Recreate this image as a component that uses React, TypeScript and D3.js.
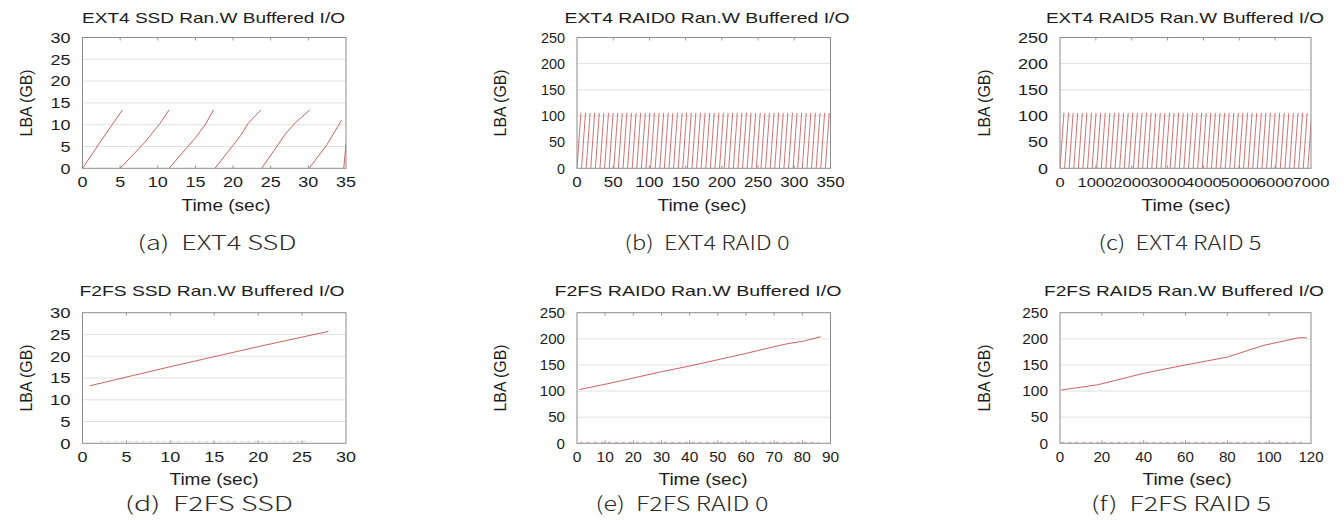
import { useEffect, useRef } from 'react';
import * as d3 from 'd3';

type Pt = [number, number];

// ---- data (time in sec, LBA in GB) ----

// (a) EXT4 on SSD: each run is one sweep through the LBA range
const ext4SsdRuns: Pt[][] = [
  [[0, 0], [2.5, 6.4], [5.3, 13.4]],
  [[5.0, 0], [8.3, 6.0], [10.3, 10.3], [11.5, 13.4]],
  [[11.5, 0], [15.0, 7.0], [16.3, 10.0], [17.4, 13.4]],
  [[17.6, 0], [21.0, 7.5], [22.0, 10.3], [23.7, 13.4]],
  [[23.8, 0], [27.0, 8.0], [28.3, 10.5], [30.2, 13.4]],
  [[30.1, 0], [32.5, 5.5], [34.4, 11.0]],
  [[34.7, 0], [35.0, 5.6]],
];

// (b) EXT4 on RAID0: start of every sweep, sweep length and top LBA
const ext4Raid0Starts = [
  0, 6.3, 12.7, 19.0, 25.4, 31.7, 38.1, 44.4, 50.8, 57.1, 63.5, 69.8, 76.2, 82.5,
  88.9, 95.2, 101.6, 107.9, 114.3, 120.6, 127.0, 133.3, 139.7, 146.0, 152.4, 158.7,
  165.1, 171.4, 177.8, 184.1, 190.5, 196.8, 203.2, 209.5, 215.9, 222.2, 228.6, 234.9,
  241.3, 247.6, 254.0, 260.3, 266.7, 273.0, 279.4, 285.7, 292.1, 298.4, 304.8, 311.1,
  317.5, 323.8, 330.2, 336.5, 342.9,
];
const ext4Raid0Sweep = 5.4;
const ext4Raid0Top = 106;

// (c) EXT4 on RAID5
const ext4Raid5Starts = [
  0, 128, 256, 384, 512, 640, 768, 896, 1024, 1152, 1280, 1408, 1536, 1664, 1792,
  1920, 2048, 2176, 2304, 2432, 2560, 2688, 2816, 2944, 3072, 3200, 3328, 3456, 3584,
  3712, 3840, 3968, 4096, 4224, 4352, 4480, 4608, 4736, 4864, 4992, 5120, 5248, 5376,
  5504, 5632, 5760, 5888, 6016, 6144, 6272, 6400, 6528, 6656, 6784, 6912,
];
const ext4Raid5Sweep = 110;
const ext4Raid5Top = 106;

// (d)-(f) F2FS: one log-structured sweep plus a faint trace near zero
const f2fsSsdLine: Pt[] = [[0.8, 13.2], [10, 17.6], [20, 22.2], [28, 25.7]];
const f2fsSsdFloor: Pt[] = [[2, 0.4], [26, 0.4]];
const f2fsRaid0Line: Pt[] = [
  [0.9, 103], [10, 113], [20, 125], [30, 137], [40, 148], [50, 160],
  [60, 172], [70, 185], [75, 191], [80, 195], [86.5, 204],
];
const f2fsRaid0Floor: Pt[] = [[1, 2], [86, 2]];
const f2fsRaid5Line: Pt[] = [
  [0.6, 102], [18, 112], [40, 134], [60, 150], [80, 165], [97, 187], [114, 202], [118, 202],
];
const f2fsRaid5Floor: Pt[] = [[0.6, 2], [117, 2]];

// tick values
const ssdLbaTicks = [0, 5, 10, 15, 20, 25, 30];
const raidLbaTicks = [0, 50, 100, 150, 200, 250];
const ext4SsdTimeTicks = [0, 5, 10, 15, 20, 25, 30, 35];
const ext4Raid0TimeTicks = [0, 50, 100, 150, 200, 250, 300, 350];
const ext4Raid5TimeTicks = [0, 1000, 2000, 3000, 4000, 5000, 6000, 7000];
const f2fsSsdTimeTicks = [0, 5, 10, 15, 20, 25, 30];
const f2fsRaid0TimeTicks = [0, 10, 20, 30, 40, 50, 60, 70, 80, 90];
const f2fsRaid5TimeTicks = [0, 20, 40, 60, 80, 100, 120];

const sweeps = (starts: number[], len: number, top: number): Pt[][] =>
  starts.map((s) => [[s, 0], [s + len, top]]);

const panels = [
  { tag: '(a)', caption: 'EXT4 SSD', title: 'EXT4 SSD Ran.W Buffered I/O', xTicks: ext4SsdTimeTicks, yTicks: ssdLbaTicks, runs: ext4SsdRuns, floor: null },
  { tag: '(b)', caption: 'EXT4 RAID 0', title: 'EXT4 RAID0 Ran.W Buffered I/O', xTicks: ext4Raid0TimeTicks, yTicks: raidLbaTicks, runs: sweeps(ext4Raid0Starts, ext4Raid0Sweep, ext4Raid0Top), floor: null },
  { tag: '(c)', caption: 'EXT4 RAID 5', title: 'EXT4 RAID5 Ran.W Buffered I/O', xTicks: ext4Raid5TimeTicks, yTicks: raidLbaTicks, runs: sweeps(ext4Raid5Starts, ext4Raid5Sweep, ext4Raid5Top), floor: null },
  { tag: '(d)', caption: 'F2FS SSD', title: 'F2FS SSD Ran.W Buffered I/O', xTicks: f2fsSsdTimeTicks, yTicks: ssdLbaTicks, runs: [f2fsSsdLine], floor: f2fsSsdFloor },
  { tag: '(e)', caption: 'F2FS RAID 0', title: 'F2FS RAID0 Ran.W Buffered I/O', xTicks: f2fsRaid0TimeTicks, yTicks: raidLbaTicks, runs: [f2fsRaid0Line], floor: f2fsRaid0Floor },
  { tag: '(f)', caption: 'F2FS RAID 5', title: 'F2FS RAID5 Ran.W Buffered I/O', xTicks: f2fsRaid5TimeTicks, yTicks: raidLbaTicks, runs: [f2fsRaid5Line], floor: f2fsRaid5Floor },
];

// ---- layout ----
const W = 1344;
const H = 528;
const cols = [
  { x0: 82.5, x1: 346, ylab: 32 },
  { x0: 577, x1: 830.5, ylab: 506 },
  { x0: 1060, x1: 1311, ylab: 990 },
];
const rows = [
  { y0: 37.5, y1: 168.3, title: 22.5, xlab: 211, caption: 250 },
  { y0: 312.7, y1: 443.3, title: 296, xlab: 485, caption: 511 },
];
// per panel text placement / width tweaks
const looks = [
  { titleCx: 213.5, titleW: 263, timeCx: 226, capCx: 217, capW: 159, xDigit: 10, yDigit: 10, xFont: 15 },
  { titleCx: 707, titleW: 285, timeCx: 702, capCx: 707, capW: 165, xDigit: 9.4, yDigit: 8, xFont: 15 },
  { titleCx: 1185, titleW: 278, timeCx: 1186, capCx: 1180, capW: 163, xDigit: 9.2, yDigit: 10, xFont: 12.5 },
  { titleCx: 212, titleW: 265, timeCx: 214, capCx: 209, capW: 168, xDigit: 10, yDigit: 10.3, xFont: 15 },
  { titleCx: 698, titleW: 287, timeCx: 703, capCx: 682, capW: 173, xDigit: 8.6, yDigit: 8.4, xFont: 15 },
  { titleCx: 1184, titleW: 280, timeCx: 1187, capCx: 1181, capW: 180, xDigit: 8.4, yDigit: 8.6, xFont: 15 },
];

const FONT = '"Liberation Sans", Arial, Helvetica, sans-serif';
const CAP_FONT = '"Noto Sans CJK KR", "Noto Sans", sans-serif';
const INK = '#1c1c1c';
const LINE = '#c4504f';

export default function App() {
  const svgRef = useRef<SVGSVGElement>(null);

  useEffect(() => {
    const svg = d3.select(svgRef.current);
    svg.selectAll('*').remove();

    panels.forEach((p, i) => {
      const c = cols[i % 3];
      const r = rows[Math.floor(i / 3)];
      const look = looks[i];

      const x = d3.scaleLinear()
        .domain([0, p.xTicks[p.xTicks.length - 1]])
        .range([c.x0, c.x1]);
      const y = d3.scaleLinear()
        .domain([0, p.yTicks[p.yTicks.length - 1]])
        .range([r.y1, r.y0]);

      const g = svg.append('g');
      const clipId = `clip-${i}`;
      g.append('clipPath').attr('id', clipId)
        .append('rect')
        .attr('x', c.x0).attr('y', r.y0 - 1)
        .attr('width', c.x1 - c.x0).attr('height', r.y1 - r.y0 + 1);

      // horizontal grid
      g.selectAll('.grid')
        .data(p.yTicks.slice(1, -1))
        .enter()
        .append('line')
        .attr('x1', c.x0).attr('x2', c.x1)
        .attr('y1', (d) => y(d)).attr('y2', (d) => y(d))
        .attr('stroke', '#e2e2e2')
        .attr('stroke-width', 1);

      // top / bottom tick marks
      p.xTicks.slice(1, -1).forEach((t) => {
        g.append('line')
          .attr('x1', x(t)).attr('x2', x(t))
          .attr('y1', r.y0).attr('y2', r.y0 + 3)
          .attr('stroke', '#999');
        g.append('line')
          .attr('x1', x(t)).attr('x2', x(t))
          .attr('y1', r.y1).attr('y2', r.y1 - 3)
          .attr('stroke', '#999');
      });

      // data
      const line = d3.line<Pt>().x((d) => x(d[0])).y((d) => y(d[1]));
      const dataG = g.append('g').attr('clip-path', `url(#${clipId})`);
      if (p.floor) {
        dataG.append('path')
          .attr('d', line(p.floor))
          .attr('fill', 'none')
          .attr('stroke', i === 3 ? '#c8c8c8' : '#d98080')
          .attr('stroke-width', 1)
          .attr('stroke-dasharray', '3 4')
          .attr('opacity', 0.7);
      }
      dataG.selectAll('.run')
        .data(p.runs)
        .enter()
        .append('path')
        .attr('d', (d) => line(d))
        .attr('fill', 'none')
        .attr('stroke', LINE)
        .attr('stroke-width', i === 1 || i === 2 ? 0.8 : 0.9);

      // frame
      g.append('rect')
        .attr('x', c.x0).attr('y', r.y0)
        .attr('width', c.x1 - c.x0).attr('height', r.y1 - r.y0)
        .attr('fill', 'none')
        .attr('stroke', '#8c8c8c')
        .attr('stroke-width', 1);

      // y tick labels
      g.selectAll('.ylab')
        .data(p.yTicks)
        .enter()
        .append('text')
        .attr('x', c.x0 - 12)
        .attr('y', (d) => y(d) + 5.3)
        .attr('text-anchor', 'end')
        .attr('font-family', FONT)
        .attr('font-size', 15)
        .attr('fill', INK)
        .attr('textLength', (d) => String(d).length * look.yDigit)
        .attr('lengthAdjust', 'spacingAndGlyphs')
        .text((d) => d);

      // x tick labels
      g.selectAll('.xlab')
        .data(p.xTicks)
        .enter()
        .append('text')
        .attr('x', (d) => x(d))
        .attr('y', r.y1 + 18.5)
        .attr('text-anchor', 'middle')
        .attr('font-family', FONT)
        .attr('font-size', look.xFont)
        .attr('fill', INK)
        .attr('textLength', (d) => String(d).length * look.xDigit)
        .attr('lengthAdjust', 'spacingAndGlyphs')
        .text((d) => d);

      // title
      g.append('text')
        .attr('x', look.titleCx)
        .attr('y', r.title)
        .attr('text-anchor', 'middle')
        .attr('font-family', FONT)
        .attr('font-size', 15)
        .attr('fill', INK)
        .attr('textLength', look.titleW)
        .attr('lengthAdjust', 'spacingAndGlyphs')
        .text(p.title);

      // axis titles
      g.append('text')
        .attr('x', look.timeCx)
        .attr('y', r.xlab)
        .attr('text-anchor', 'middle')
        .attr('font-family', FONT)
        .attr('font-size', 16)
        .attr('fill', INK)
        .attr('textLength', 89)
        .attr('lengthAdjust', 'spacingAndGlyphs')
        .text('Time (sec)');

      g.append('text')
        .attr('transform', `translate(${c.ylab}, ${(r.y0 + r.y1) / 2}) rotate(-90)`)
        .attr('text-anchor', 'middle')
        .attr('font-family', FONT)
        .attr('font-size', 16)
        .attr('fill', INK)
        .attr('textLength', 67)
        .attr('lengthAdjust', 'spacingAndGlyphs')
        .text('LBA (GB)');

      // sub-figure caption (thin, wide Korean-style face)
      g.append('text')
        .attr('x', look.capCx)
        .attr('y', r.caption)
        .attr('text-anchor', 'middle')
        .attr('font-family', CAP_FONT)
        .attr('font-size', 19.5)
        .attr('font-weight', 300)
        .attr('fill', '#2b2b2b')
        .attr('textLength', look.capW)
        .attr('lengthAdjust', 'spacingAndGlyphs')
        .style('white-space', 'pre')
        .text(`${p.tag}  ${p.caption}`);
    });
  }, []);

  return (
    <svg
      ref={svgRef}
      width={W}
      height={H}
      viewBox={`0 0 ${W} ${H}`}
      style={{ position: 'absolute', left: 0, top: 0, background: '#fff' }}
    />
  );
}
